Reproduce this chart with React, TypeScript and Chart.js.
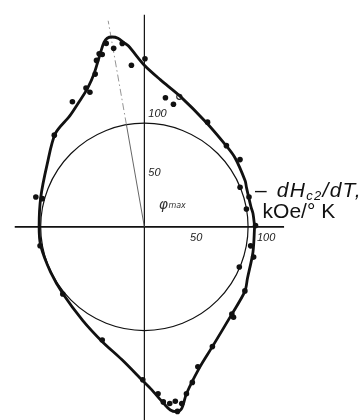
import { useEffect, useRef } from "react";
import { Chart, registerables } from "chart.js";

Chart.register(...registerables);

// Thick fitted curve: polar angle (deg) and -dHc2/dT (kOe/°K)
const curveAngles = [
  0.3, 7.1, 10.5, 21.1, 24.5, 37.1, 45.2, 59.4, 74.7, 83.7, 90, 95.1, 96.5, 98, 99.7,
  101.2, 102.4, 104.1, 108.2, 112.3, 117.3, 123.9, 133.8, 147.4, 164, 179.7, 190.3,
  205.5, 219.8, 236.6, 249.8, 260.3, 269.4, 272.3, 276.3, 278.1, 280, 281.7, 284.2, 291.4,
  299.7, 315.2, 327.4, 333.6, 346.9, 360.3,
];
const curveRadii = [
  106.3, 105.5, 104.6, 105.5, 106.8, 109.7, 111, 116.8, 130.2, 142, 155.2, 174.6, 178.3,
  183, 185, 184.7, 181.4, 173, 155.1, 144.1, 136.1, 128.7, 124.1, 111.3, 103.9, 101.5,
  101.6, 100.3, 101.6, 107.8, 117.5, 129.3, 147.8, 155.7, 170.7, 177.7, 180.2, 178, 165.3,
  145.4, 132.4, 118.9, 115, 111, 107.5, 106.3,
];

// Measured points (filled)
const pointAngles = [
  101.8, 96.9, 99.8, 104.7, 103.8, 106.1, 107.9, 112.9, 112.1, 120, 94.6, 89.8, 80.7, 76.6,
  58.8, 44.6, 35, 22.4, 15.9, 9.9, 0.7, 349.9, 344.6, 337.2, 327.6, 315.2, 314.7, 299.7, 291,
  287.2, 284.2, 274.7, 276.2, 278.2, 280.1, 282, 280.2, 269.4, 249.5, 219.3, 190.2, 164.7,
  164.6, 134.6,
];
const pointRadii = [
  180, 177.5, 174, 171.8, 170.4, 166.4, 154.2, 144.7, 139.6, 138.8, 155.7, 161.5, 125.7, 121,
  117.6, 111.1, 112.6, 99.8, 104.9, 99.9, 107.2, 104.1, 109.3, 99.3, 114.8, 118.9, 122.2,
  132.4, 143.9, 156.4, 165.3, 160.8, 169.1, 171.4, 170.1, 173.4, 180.1, 146.9, 116, 101.7,
  102.2, 108.5, 102.1, 123.7,
];

// Open point
const openPointAngles = [74.9];
const openPointRadii = [129.4];

// Reference circle and axis ticks
const circleRadius = 100;
const xTickValues = [50, 100];
const xTickLabels = ["50", "100"];
const yTickValues = [50, 100];
const yTickLabels = ["50", "100"];
const phiMaxAngle = 100;
const phiMaxLength = 201;

const axisLabelLine1 = { dash: "–", main: " dH", sub: "c2", rest: "/dT," };
const axisLabelLine2 = "kOe/° K";

// View ranges (data units)
const X_MIN = -134.3;
const X_MAX = 205.9;
const Y_MIN = -180.6;
const Y_MAX = 213.0;

function toXY(angles: number[], radii: number[]) {
  return angles.map((a, i) => ({
    x: radii[i] * Math.cos((a * Math.PI) / 180),
    y: radii[i] * Math.sin((a * Math.PI) / 180),
  }));
}

const decor = {
  id: "polarDecor",
  beforeDatasetsDraw(chart: any) {
    const ctx = chart.ctx as CanvasRenderingContext2D;
    const xs = chart.scales.x;
    const ys = chart.scales.y;
    const ox = xs.getPixelForValue(0);
    const oy = ys.getPixelForValue(0);
    ctx.save();
    ctx.strokeStyle = "#111";
    // horizontal axis
    ctx.lineWidth = 1.8;
    ctx.beginPath();
    ctx.moveTo(xs.getPixelForValue(-125), oy);
    ctx.lineTo(xs.getPixelForValue(134.7), oy);
    ctx.stroke();
    // vertical axis
    ctx.lineWidth = 1.2;
    ctx.beginPath();
    ctx.moveTo(ox, ys.getPixelForValue(203.7));
    ctx.lineTo(ox, ys.getPixelForValue(-190));
    ctx.stroke();
    // circle
    const rpx = xs.getPixelForValue(circleRadius) - ox;
    ctx.lineWidth = 1.2;
    ctx.beginPath();
    ctx.arc(ox, oy, rpx, 0, Math.PI * 2);
    ctx.stroke();
    // phi max line
    const a = (phiMaxAngle * Math.PI) / 180;
    const p = (r: number) => [xs.getPixelForValue(r * Math.cos(a)), ys.getPixelForValue(r * Math.sin(a))];
    ctx.strokeStyle = "#555";
    ctx.lineWidth = 0.9;
    const [x0, y0] = p(0);
    const [x1, y1] = p(100);
    ctx.beginPath();
    ctx.moveTo(x0, y0);
    ctx.lineTo(x1, y1);
    ctx.stroke();
    ctx.strokeStyle = "#888";
    ctx.setLineDash([7, 3, 1.5, 3]);
    const [x2, y2] = p(phiMaxLength);
    ctx.beginPath();
    ctx.moveTo(x1, y1);
    ctx.lineTo(x2, y2);
    ctx.stroke();
    ctx.setLineDash([]);
    ctx.restore();
  },
  afterDatasetsDraw(chart: any) {
    const ctx = chart.ctx as any;
    const xs = chart.scales.x;
    const ys = chart.scales.y;
    const ox = xs.getPixelForValue(0);
    const oy = ys.getPixelForValue(0);
    ctx.save();
    ctx.fillStyle = "#222";
    ctx.font = "italic 11px 'Liberation Sans', Arial, sans-serif";
    // x ticks
    ctx.textBaseline = "top";
    ctx.textAlign = "center";
    xTickValues.forEach((v, i) => {
      const off = v === 100 ? 18 : 0;
      ctx.fillText(xTickLabels[i], xs.getPixelForValue(v) + off, oy + 6);
    });
    // y ticks
    ctx.textAlign = "left";
    ctx.textBaseline = "middle";
    yTickValues.forEach((v, i) => {
      const off = v === 100 ? -9 : -1.5;
      ctx.fillText(yTickLabels[i], ox + 4, ys.getPixelForValue(v) + off);
    });
    // phi max
    ctx.textBaseline = "alphabetic";
    ctx.fillStyle = "#333";
    ctx.font = "italic 14px 'DejaVu Sans', sans-serif";
    const px = xs.getPixelForValue(13.8);
    const py = ys.getPixelForValue(17.2);
    ctx.fillText("φ", px, py);
    const pw = ctx.measureText("φ").width;
    ctx.font = "italic 8px 'DejaVu Sans', sans-serif";
    ctx.fillText("max", px + pw + 0.5, py - 1);
    // axis label
    ctx.fillStyle = "#111";
    let lx = xs.getPixelForValue(106.6);
    const ly = ys.getPixelForValue(28.7);
    ctx.font = "21px 'Liberation Sans', Arial, sans-serif";
    ctx.fillText(axisLabelLine1.dash, lx, ly);
    lx += ctx.measureText(axisLabelLine1.dash).width + 3;
    ctx.letterSpacing = "1.3px";
    ctx.font = "italic 21px 'Liberation Sans', Arial, sans-serif";
    ctx.fillText(axisLabelLine1.main, lx, ly);
    lx += ctx.measureText(axisLabelLine1.main).width;
    ctx.font = "italic 13px 'Liberation Sans', Arial, sans-serif";
    ctx.fillText(axisLabelLine1.sub, lx, ly + 3);
    lx += ctx.measureText(axisLabelLine1.sub).width;
    ctx.font = "italic 21px 'Liberation Sans', Arial, sans-serif";
    ctx.fillText(axisLabelLine1.rest, lx, ly);
    ctx.letterSpacing = "0px";
    ctx.font = "21px 'Liberation Sans', Arial, sans-serif";
    ctx.fillText(axisLabelLine2, xs.getPixelForValue(114), ys.getPixelForValue(8.4));
    ctx.restore();
  },
};

export default function App() {
  const ref = useRef<HTMLCanvasElement>(null);
  useEffect(() => {
    const canvas = ref.current;
    if (!canvas) return;
    const chart = new Chart(canvas, {
      type: "scatter",
      data: {
        datasets: [
          {
            label: "curve",
            data: toXY(curveAngles, curveRadii),
            showLine: true,
            borderColor: "#111",
            borderWidth: 2.8,
            tension: 0.3,
            pointRadius: 0,
            fill: false,
          } as any,
          {
            label: "points",
            data: toXY(pointAngles, pointRadii),
            showLine: false,
            pointRadius: 2.8,
            pointBackgroundColor: "#111",
            pointBorderColor: "#111",
            pointBorderWidth: 0,
          },
          {
            label: "open",
            data: toXY(openPointAngles, openPointRadii),
            showLine: false,
            pointRadius: 2.6,
            pointBackgroundColor: "#fff",
            pointBorderColor: "#222",
            pointBorderWidth: 1.1,
          },
        ],
      },
      options: {
        animation: false,
        responsive: false,
        devicePixelRatio: 1,
        events: [],
        layout: { padding: 0 },
        plugins: { legend: { display: false }, tooltip: { enabled: false } },
        scales: {
          x: { type: "linear", min: X_MIN, max: X_MAX, bounds: "data", display: false },
          y: { type: "linear", min: Y_MIN, max: Y_MAX, bounds: "data", display: false },
        },
      },
      plugins: [decor],
    });
    return () => chart.destroy();
  }, []);
  return (
    <div style={{ position: "fixed", left: 0, top: 0, width: 363, height: 420, background: "#fff" }}>
      <canvas ref={ref} width={363} height={420} style={{ display: "block" }} />
    </div>
  );
}
